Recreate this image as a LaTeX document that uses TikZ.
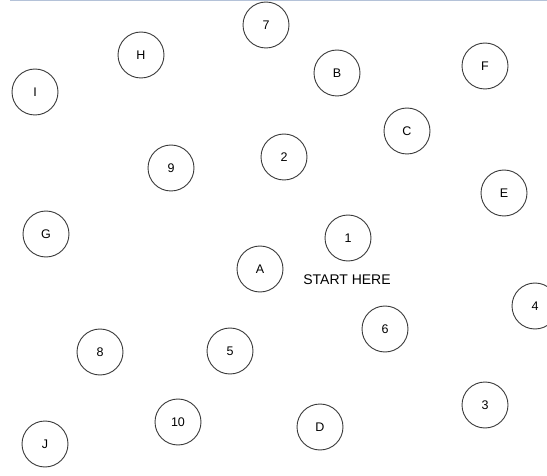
\documentclass[tikz,border=0pt]{standalone}
\usepackage{fontspec}
\setmainfont{Liberation Sans}
\definecolor{topline}{HTML}{B4C2D8}
\definecolor{ringcol}{HTML}{3A3A3A}
\begin{document}
\begin{tikzpicture}[x=1pt,y=-1pt,
  ring/.style={circle,draw=ringcol,line width=0.9pt,minimum size=46pt,inner sep=0pt,font=\fontsize{12.5}{14}\selectfont},
  lbl/.style={font=\fontsize{14}{16}\selectfont,inner sep=0pt}]
\useasboundingbox (0,0) rectangle (547,476);
\draw[topline,line width=1.5pt] (10,0.75) -- (547,0.75);
\node[ring] (n7) at (266,25) {7};
\node[ring] (nH) at (141,55) {H};
\node[ring] (nI) at (35,92) {I};
\node[ring] (nB) at (337,73) {B};
\node[ring] (nF) at (485,66) {F};
\node[ring] (nC) at (407,131) {C};
\node[ring] (n2) at (284,157) {2};
\node[ring] (n9) at (171,168) {9};
\node[ring] (nE) at (504,193) {E};
\node[ring] (nG) at (46,234) {G};
\node[ring] (n1) at (348,238) {1};
\node[ring] (nA) at (260,269) {A};
\node[lbl] (start) at (347,280) {START HERE};
\node[ring] (n4) at (535,306) {4};
\node[ring] (n6) at (385,329) {6};
\node[ring] (n8) at (100,352) {8};
\node[ring] (n5) at (230,351) {5};
\node[ring] (n3) at (485,405) {3};
\node[ring] (n10) at (178,422) {10};
\node[ring] (nD) at (320,427) {D};
\node[ring] (nJ) at (45,444) {J};
\end{tikzpicture}
\end{document}
